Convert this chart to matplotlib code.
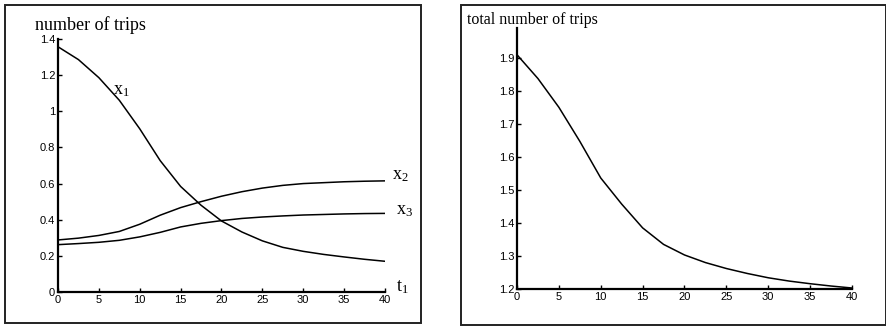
import matplotlib
matplotlib.use("Agg")
import matplotlib.pyplot as plt
from matplotlib.patches import Rectangle
from matplotlib.ticker import FuncFormatter

# data
t = [0, 2.5, 5, 7.5, 10, 12.5, 15, 17.5, 20, 22.5, 25, 27.5, 30, 32.5, 35, 37.5, 40]
x1 = [1.357, 1.286, 1.186, 1.061, 0.903, 0.727, 0.584, 0.480, 0.393, 0.332, 0.283, 0.247, 0.225, 0.208, 0.194, 0.181, 0.170]
x2 = [0.288, 0.298, 0.313, 0.335, 0.375, 0.425, 0.467, 0.500, 0.530, 0.555, 0.575, 0.590, 0.600, 0.605, 0.610, 0.613, 0.615]
x3 = [0.262, 0.268, 0.275, 0.286, 0.305, 0.330, 0.360, 0.380, 0.395, 0.407, 0.415, 0.421, 0.426, 0.429, 0.432, 0.434, 0.435]
total = [1.909, 1.837, 1.750, 1.647, 1.536, 1.457, 1.385, 1.335, 1.303, 1.280, 1.262, 1.247, 1.234, 1.224, 1.216, 1.209, 1.203]

left_yticks = [0, 0.2, 0.4, 0.6, 0.8, 1, 1.2, 1.4]
right_yticks = [1.2, 1.3, 1.4, 1.5, 1.6, 1.7, 1.8, 1.9]
xticks = [0, 5, 10, 15, 20, 25, 30, 35, 40]

plt.rcParams['mathtext.fontset'] = 'custom'
plt.rcParams['mathtext.rm'] = 'Liberation Serif'
plt.rcParams['mathtext.it'] = 'Liberation Serif'

W, H = 887, 327
fig = plt.figure(figsize=(W / 100, H / 100), dpi=100)

def px(x0, y0, x1_, y1_):
    return [x0 / W, 1 - y1_ / H, (x1_ - x0) / W, (y1_ - y0) / H]

# panel boxes
for (a, b, c, d) in [(5, 5, 421, 323), (461, 5, 886, 325)]:
    fig.patches.append(Rectangle((a / W, 1 - d / H), (c - a) / W, (d - b) / H,
                                 transform=fig.transFigure, fill=False,
                                 edgecolor='#222222', linewidth=1.4))

fmt = FuncFormatter(lambda v, p: '%g' % v)

def style(ax):
    for s in ['top', 'right']:
        ax.spines[s].set_visible(False)
    for s in ['left', 'bottom']:
        ax.spines[s].set_linewidth(1.6)
    ax.tick_params(direction='in', length=3, width=1, labelsize=8, pad=2)
    for lab in ax.get_xticklabels() + ax.get_yticklabels():
        lab.set_fontfamily('Liberation Sans')
    ax.yaxis.set_major_formatter(fmt)
    ax.xaxis.set_major_formatter(fmt)

ax1 = fig.add_axes(px(58, 39, 385, 292))
ax1.plot(t, x1, color='black', lw=1.1)
ax1.plot(t, x2, color='black', lw=1.1)
ax1.plot(t, x3, color='black', lw=1.1)
ax1.set_xlim(0, 40)
ax1.set_ylim(0, 1.4)
ax1.set_xticks(xticks)
ax1.set_yticks(left_yticks)
style(ax1)
ax1.text(6.7, 1.12, r'$\mathrm{x}_1$', fontsize=13, va='center', ha='left')
ax1.text(40.8, 0.65, r'$\mathrm{x}_2$', fontsize=13, va='center', ha='left', clip_on=False)
ax1.text(41.4, 0.455, r'$\mathrm{x}_3$', fontsize=13, va='center', ha='left', clip_on=False)
ax1.text(41.4, 0.03, r'$\mathrm{t}_1$', fontsize=13, va='center', ha='left', clip_on=False)
fig.text(35 / W, 1 - 25 / H, 'number of trips', fontsize=13, family='Liberation Serif',
         ha='left', va='center')

ax2 = fig.add_axes(px(517, 28, 852, 289))
ax2.plot(t, total, color='black', lw=1.1)
ax2.set_xlim(0, 40)
ax2.set_ylim(1.2, 1.99)
ax2.set_xticks(xticks)
ax2.set_yticks(right_yticks)
style(ax2)
fig.text(467 / W, 1 - 20 / H, 'total number of trips', fontsize=11.5, family='Liberation Serif',
         ha='left', va='center')

fig.savefig('out.png', dpi=100)
